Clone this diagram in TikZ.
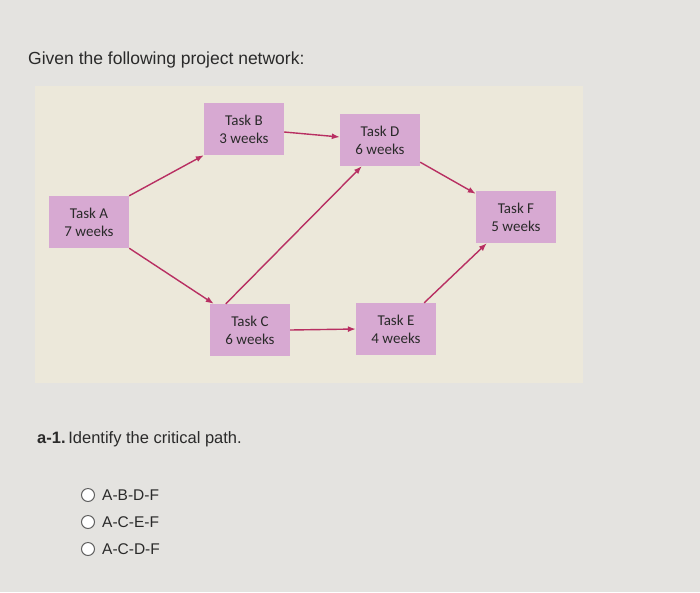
\documentclass[tikz,border=0pt]{standalone}
\usepackage{fontspec}
\setmainfont{Liberation Sans}
\newfontfamily\taskfont{Carlito}
\usetikzlibrary{arrows.meta,positioning}
\definecolor{pageGray}{HTML}{E4E3E0}
\definecolor{panelBeige}{HTML}{ECE8DA}
\definecolor{taskPink}{HTML}{D7A9D2}
\definecolor{flowRed}{HTML}{B82F62}
\definecolor{textDark}{HTML}{2A2A2A}

\begin{document}
\begin{tikzpicture}[
    x=1pt, y=-1pt,
    taskBox/.style={
        rectangle, fill=taskPink, minimum width=80pt, minimum height=52pt,
        align=center, inner sep=2pt, font=\taskfont\fontsize{15}{18}\selectfont,
        text=textDark
    },
    flow/.style={
        -{Latex[length=8pt, width=6pt]}, line width=1.4pt, draw=flowRed
    },
    questionTxt/.style={
        anchor=base west, inner sep=0pt, text=textDark,
        font=\fontsize{16.5}{18}\selectfont
    },
    radioBtn/.style={
        circle, draw=gray!75!black, line width=1pt, fill=white,
        minimum size=13pt, inner sep=0pt
    }
]
\useasboundingbox (0,0) rectangle (700,592);
\fill[pageGray] (0,0) rectangle (700,592);

% Heading
\node[questionTxt, font=\fontsize{17.5}{20}\selectfont] (title) at (28,64) {Given the following project network:};

% Network panel
\fill[panelBeige] (35,86) rectangle (583,383);

% Tasks
\node[taskBox] (taskA) at (89,222) {Task A\\7 weeks};
\node[taskBox] (taskB) at (244,129) {Task B\\3 weeks};
\node[taskBox] (taskC) at (250,330) {Task C\\6 weeks};
\node[taskBox] (taskD) at (380,140) {Task D\\6 weeks};
\node[taskBox] (taskE) at (396,329) {Task E\\4 weeks};
\node[taskBox] (taskF) at (516,217) {Task F\\5 weeks};

% Flows
\draw[flow] (taskA.north east) -- (taskB.south west);
\draw[flow] (taskA.south east) -- ([xshift=4pt]taskC.north west);
\draw[flow] ([yshift=-3pt]taskB.east) -- ([yshift=3pt]taskD.west);
\draw[flow] ([xshift=16pt]taskC.north west) -- ([xshift=22pt]taskD.south west);
\draw[flow] (taskC.east) -- (taskE.west);
\draw[flow] ([yshift=4pt]taskD.south east) -- ([yshift=-3pt]taskF.north west);
\draw[flow] ([xshift=-12pt]taskE.north east) -- ([xshift=11pt]taskF.south west);

% Question
\node[questionTxt] (question) at (37,443) {\textbf{a-1.}\,Identify the critical path.};

% Options
\node[radioBtn] (optOne) at (88,495) {};
\node[radioBtn] (optTwo) at (88,522) {};
\node[radioBtn] (optThree) at (88,549) {};
\node[questionTxt, anchor=west, font=\fontsize{15.5}{18}\selectfont] (optOneTxt) at ([xshift=7pt]optOne.east) {A-B-D-F};
\node[questionTxt, anchor=west, font=\fontsize{15.5}{18}\selectfont] (optTwoTxt) at ([xshift=7pt]optTwo.east) {A-C-E-F};
\node[questionTxt, anchor=west, font=\fontsize{15.5}{18}\selectfont] (optThreeTxt) at ([xshift=7pt]optThree.east) {A-C-D-F};

\end{tikzpicture}
\end{document}
